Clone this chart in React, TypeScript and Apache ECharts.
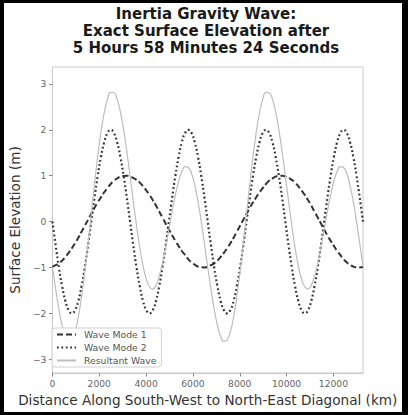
import React, { useEffect, useRef } from "react";
import * as echarts from "echarts";

// Distance along the SW-NE diagonal (km)
const distanceKm = [
  0, 138, 276, 414, 553, 691, 829, 967, 1105, 1243, 1382, 1520, 1658, 1796,
  1934, 2072, 2211, 2349, 2487, 2625, 2763, 2901, 3039, 3178, 3316, 3454, 3592,
  3730, 3868, 4006, 4145, 4283, 4421, 4559, 4697, 4835, 4974, 5112, 5250, 5388,
  5526, 5664, 5803, 5941, 6079, 6217, 6355, 6493, 6631, 6770, 6908, 7046, 7184,
  7322, 7460, 7599, 7737, 7875, 8013, 8151, 8289, 8428, 8566, 8704, 8842, 8980,
  9118, 9256, 9395, 9533, 9671, 9809, 9947, 10085, 10224, 10362, 10500, 10638,
  10776, 10914, 11052, 11191, 11329, 11467, 11605, 11743, 11881, 12020, 12158,
  12296, 12434, 12572, 12710, 12849, 12987, 13125, 13263,
];

// Surface elevation (m)
const waveMode1 = [
  -0.985, -0.95, -0.91, -0.85, -0.77, -0.68, -0.58, -0.47, -0.35, -0.22, -0.09, 0.04,
  0.17, 0.3, 0.42, 0.53, 0.64, 0.73, 0.82, 0.89, 0.94, 0.98, 0.996, 0.999,
  0.985, 0.95, 0.91, 0.85, 0.77, 0.68, 0.58, 0.47, 0.35, 0.22, 0.09, -0.04,
  -0.17, -0.3, -0.42, -0.53, -0.64, -0.73, -0.82, -0.89, -0.94, -0.98, -0.996, -0.999,
  -0.985, -0.95, -0.91, -0.85, -0.77, -0.68, -0.58, -0.47, -0.35, -0.22, -0.09, 0.04,
  0.17, 0.3, 0.42, 0.53, 0.64, 0.73, 0.82, 0.89, 0.94, 0.98, 0.996, 0.999,
  0.985, 0.95, 0.91, 0.85, 0.77, 0.68, 0.58, 0.47, 0.35, 0.22, 0.09, -0.04,
  -0.17, -0.3, -0.42, -0.53, -0.64, -0.73, -0.82, -0.89, -0.94, -0.98, -0.996, -0.999,
  -0.985,
];

const waveMode2 = [
  0, -0.52, -1, -1.41, -1.73, -1.93, -2, -1.93, -1.73, -1.41, -1, -0.52,
  0, 0.52, 1, 1.41, 1.73, 1.93, 2, 1.93, 1.73, 1.41, 1, 0.52,
  0, -0.52, -1, -1.41, -1.73, -1.93, -2, -1.93, -1.73, -1.41, -1, -0.52,
  0, 0.52, 1, 1.41, 1.73, 1.93, 2, 1.93, 1.73, 1.41, 1, 0.52,
  0, -0.52, -1, -1.41, -1.73, -1.93, -2, -1.93, -1.73, -1.41, -1, -0.52,
  0, 0.52, 1, 1.41, 1.73, 1.93, 2, 1.93, 1.73, 1.41, 1, 0.52,
  0, -0.52, -1, -1.41, -1.73, -1.93, -2, -1.93, -1.73, -1.41, -1, -0.52,
  0, 0.52, 1, 1.41, 1.73, 1.93, 2, 1.93, 1.73, 1.41, 1, 0.52,
  0,
];

const resultantWave = [
  -0.99, -1.47, -1.91, -2.26, -2.5, -2.61, -2.58, -2.4, -2.08, -1.63, -1.09, -0.48,
  0.17, 0.82, 1.42, 1.95, 2.37, 2.67, 2.82, 2.81, 2.67, 2.39, 2.0, 1.52,
  0.99, 0.44, -0.09, -0.57, -0.96, -1.25, -1.42, -1.47, -1.39, -1.19, -0.91, -0.56,
  -0.17, 0.22, 0.58, 0.88, 1.09, 1.2, 1.18, 1.05, 0.79, 0.44, 0.0, -0.48,
  -0.99, -1.47, -1.91, -2.26, -2.5, -2.61, -2.58, -2.4, -2.08, -1.63, -1.09, -0.48,
  0.17, 0.82, 1.42, 1.95, 2.37, 2.67, 2.82, 2.81, 2.67, 2.39, 2.0, 1.52,
  0.99, 0.44, -0.09, -0.57, -0.96, -1.25, -1.42, -1.47, -1.39, -1.19, -0.91, -0.56,
  -0.17, 0.22, 0.58, 0.88, 1.09, 1.2, 1.18, 1.05, 0.79, 0.44, 0.0, -0.48,
  -0.99,
];

const xTicks = [0, 2000, 4000, 6000, 8000, 10000, 12000];
const yTicks = [-3, -2, -1, 0, 1, 2, 3];
const titleLines = [
  "Inertia Gravity Wave:",
  "Exact Surface Elevation after",
  "5 Hours 58 Minutes 24 Seconds",
];

const FONT = "DejaVu Sans";

export default function App() {
  const ref = useRef<HTMLDivElement>(null);

  useEffect(() => {
    const chart = echarts.init(ref.current!, null, { renderer: "svg" });
    const pair = (ys: number[]) => distanceKm.map((x, i) => [x, ys[i]]);
    const minus = (v: number) => String(v).replace("-", "\u2212");

    chart.setOption({
      animation: false,
      backgroundColor: "transparent",
      graphic: titleLines.map((t, i) => ({
        type: "text",
        x: 206,
        y: 13.7 + i * 17.3,
        style: {
          text: t,
          fontFamily: FONT,
          fontSize: 15,
          fontWeight: "bold",
          fill: "#1a1a1a",
          textAlign: "center",
          textVerticalAlign: "middle",
        },
      })),
      grid: { left: 48, right: 45, top: 67, bottom: 42, show: true, borderColor: "#c8c8c8", borderWidth: 1, backgroundColor: "#fff" },
      legend: {
        left: 52,
        top: 328,
        orient: "vertical",
        padding: [2, 5, 2, 4],
        itemGap: 4,
        itemWidth: 19,
        itemHeight: 10,
        backgroundColor: "rgba(255,255,255,0.85)",
        borderColor: "#d0d0d0",
        borderWidth: 1,
        borderRadius: 3,
        itemStyle: { opacity: 0 },
        textStyle: { fontFamily: FONT, fontSize: 9.3, color: "#555", padding: [0, 0, 0, 3] },
        data: ["Wave Mode 1", "Wave Mode 2", "Resultant Wave"],
      },
      xAxis: {
        type: "value",
        min: 0,
        max: 13263,
        name: "Distance Along South-West to North-East Diagonal (km)",
        nameLocation: "middle",
        nameGap: 20,
        nameTextStyle: { fontFamily: FONT, fontSize: 13.6, color: "#333" },
        axisLine: { show: true, onZero: false, lineStyle: { color: "#c8c8c8" } },
        axisTick: { show: true, length: 3.5, lineStyle: { color: "#888" }, customValues: xTicks },
        axisLabel: { fontFamily: FONT, fontSize: 9.2, color: "#666", margin: 6, customValues: xTicks, formatter: minus },
        splitLine: { show: false },
      },
      yAxis: {
        type: "value",
        min: -3.3,
        max: 3.37,
        name: "Surface Elevation (m)",
        nameLocation: "middle",
        nameGap: 24,
        nameTextStyle: { fontFamily: FONT, fontSize: 13.6, color: "#333" },
        axisLine: { show: true, onZero: false, lineStyle: { color: "#c8c8c8" } },
        axisTick: { show: true, length: 3.5, lineStyle: { color: "#888" }, customValues: yTicks },
        axisLabel: { fontFamily: FONT, fontSize: 9.2, color: "#666", margin: 6, customValues: yTicks, formatter: minus },
        splitLine: { show: false },
      },
      series: [
        {
          name: "Wave Mode 1",
          type: "line",
          data: pair(waveMode1),
          smooth: true,
          showSymbol: false,
          symbol: "none",
          lineStyle: { color: "#333", width: 2, type: [6, 3] },
          itemStyle: { color: "#333" },
        },
        {
          name: "Wave Mode 2",
          type: "line",
          data: pair(waveMode2),
          smooth: true,
          showSymbol: false,
          symbol: "none",
          lineStyle: { color: "#333", width: 2.2, type: [1.8, 2.6] },
          itemStyle: { color: "#333" },
        },
        {
          name: "Resultant Wave",
          type: "line",
          data: pair(resultantWave),
          smooth: true,
          showSymbol: false,
          symbol: "none",
          lineStyle: { color: "#bdbdbd", width: 1.2 },
          itemStyle: { color: "#bdbdbd" },
        },
      ],
    });
    return () => chart.dispose();
  }, []);

  return (
    <div style={{ position: "fixed", left: 0, top: 0, width: 408, height: 415, background: "#000" }}>
      <div style={{ position: "absolute", left: 4, top: 3, width: 398, height: 409, background: "#fff" }} />
      <div ref={ref} style={{ position: "absolute", left: 0, top: 0, width: 408, height: 415 }} />
    </div>
  );
}
